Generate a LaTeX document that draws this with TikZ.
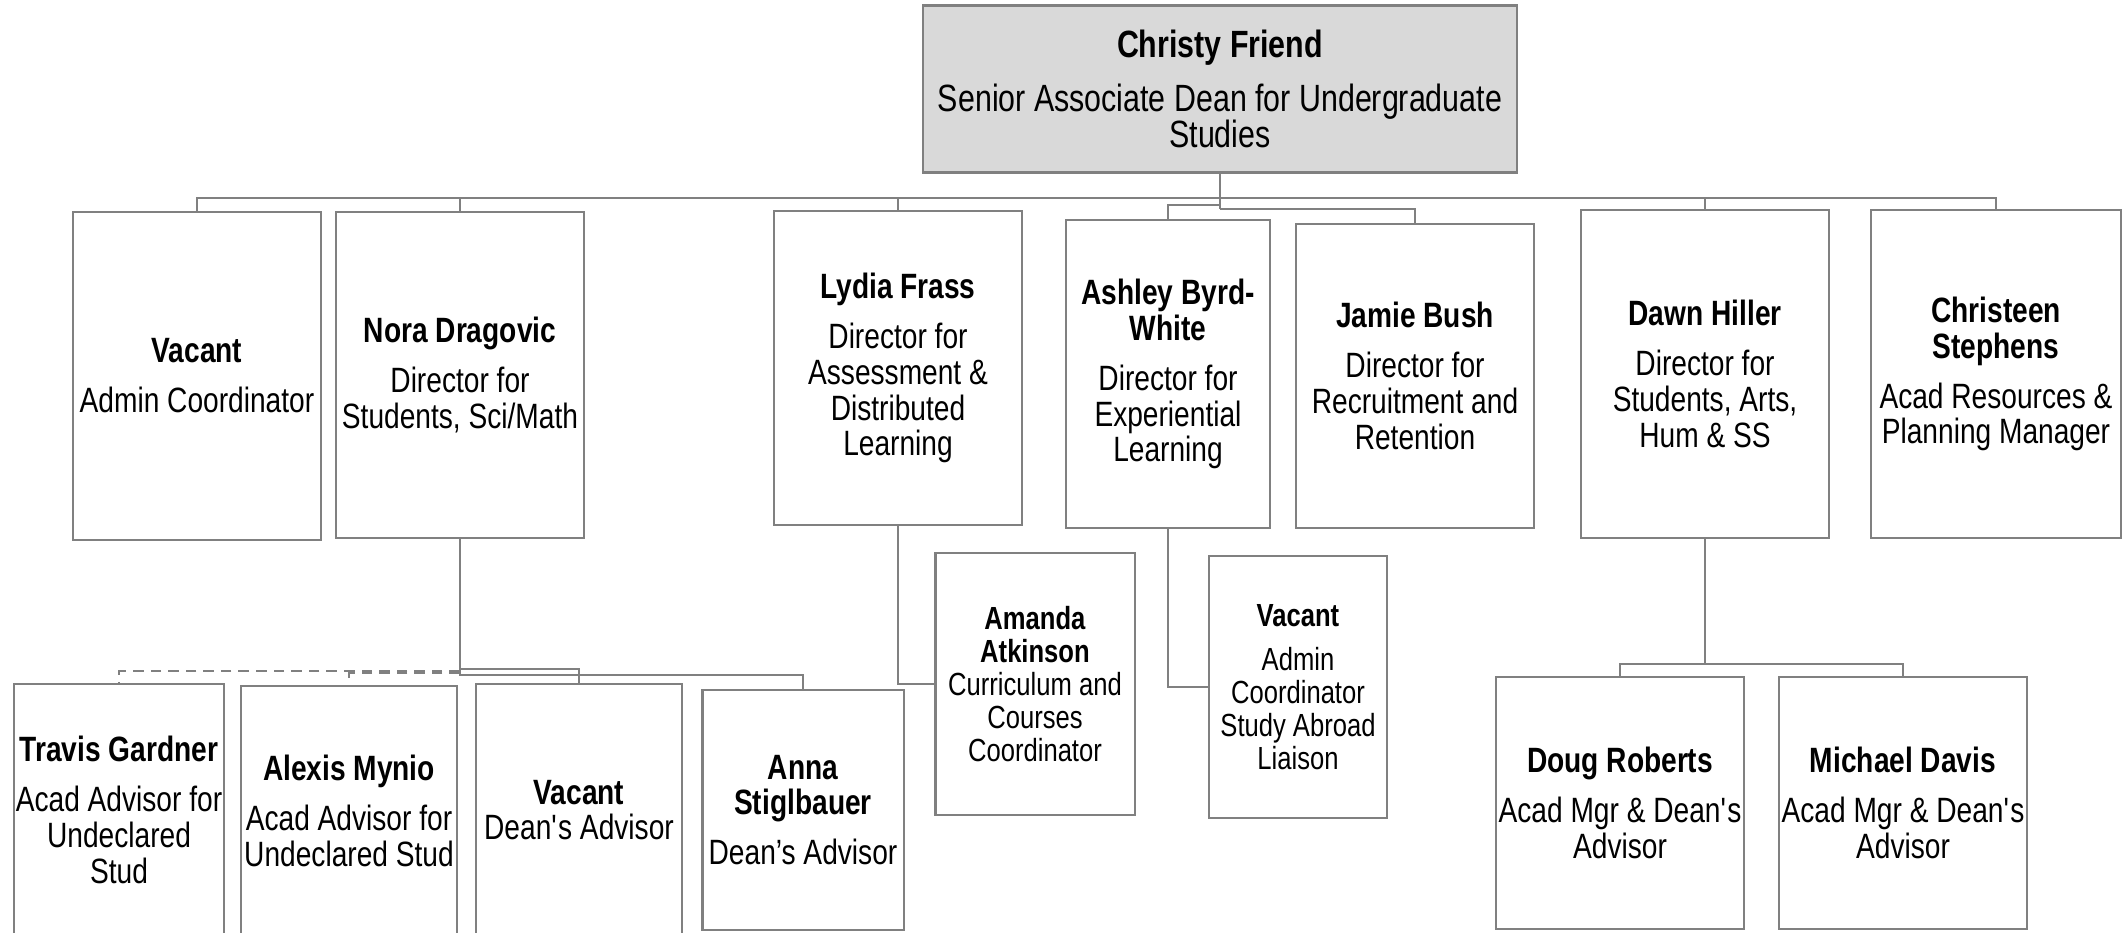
\documentclass[tikz,border=0pt]{standalone}
\usepackage{fontspec}
\setmainfont{Liberation Sans}
\newfontfamily\narrow{Liberation Sans}[FakeStretch=0.8]
\definecolor{linegray}{RGB}{128,128,128}
\definecolor{headfill}{RGB}{217,217,217}

\begin{document}
\begin{tikzpicture}[x=0.01cm, y=-0.01cm,
  box/.style 2 args={shape=rectangle, draw=linegray, line width=0.6pt, minimum width=#1, minimum height=#2, inner sep=0pt, align=center, font=\narrow\fontsize{10}{10.2}\selectfont},
  small/.style={font=\narrow\fontsize{9.1}{9.4}\selectfont},
  link/.style={draw=linegray, line width=0.6pt},
  dashlink/.style={link, dash pattern=on 3pt off 2pt}]
\useasboundingbox (0,0) rectangle (2126,933);
\clip (0,0) rectangle (2126,933);

\node [box={5.93cm}{1.67cm}, fill=headfill, font=\narrow\fontsize{10.8}{10.2}\selectfont] (CF) at (1220,89) {\textbf{Christy Friend}\\[5pt]Senior Associate Dean for Undergraduate\\Studies};

\node [box={2.48cm}{3.27cm}] (VA) at (197,376) {\textbf{Vacant}\\[4pt]Admin Coordinator};
\node [box={2.48cm}{3.26cm}] (ND) at (460,375) {\textbf{Nora Dragovic}\\[4pt]Director for\\Students, Sci/Math};
\node [box={2.48cm}{3.13cm}] (LF) at (898,368) {\textbf{Lydia Frass}\\[4pt]Director for\\Assessment \&\\Distributed\\Learning};
\node [box={2.04cm}{3.07cm}] (AB) at (1168,374) {\textbf{Ashley Byrd-}\\\textbf{White}\\[4pt]Director for\\Experiential\\Learning};
\node [box={2.38cm}{3.03cm}] (JB) at (1415,376) {\textbf{Jamie Bush}\\[4pt]Director for\\Recruitment and\\Retention};
\node [box={2.48cm}{3.27cm}] (DH) at (1705,374) {\textbf{Dawn Hiller}\\[4pt]Director for\\Students, Arts,\\Hum \& SS};
\node [box={2.50cm}{3.28cm}] (CS) at (1996,374) {\textbf{Christeen}\\\textbf{Stephens}\\[4pt]Acad Resources \&\\Planning Manager};

\node [box={1.99cm}{2.62cm}, small] (AA) at (1035,684) {\textbf{Amanda}\\\textbf{Atkinson}\\Curriculum and\\Courses\\Coordinator};
\node [box={1.78cm}{2.62cm}, small] (VB) at (1298,687) {\textbf{Vacant}\\[3pt]Admin\\Coordinator\\Study Abroad\\Liaison};

\node [box={2.10cm}{2.51cm}] (TG) at (119,810) {\textbf{Travis Gardner}\\[4pt]Acad Advisor for\\Undeclared\\Stud};
\node [box={2.16cm}{2.49cm}] (AM) at (349,811) {\textbf{Alexis Mynio}\\[4pt]Acad Advisor for\\Undeclared Stud};
\node [box={2.06cm}{2.51cm}] (VC) at (579,810) {\textbf{Vacant}\\Dean\textquotesingle s Advisor};
\node [box={2.01cm}{2.40cm}] (AS) at (803,810) {\textbf{Anna}\\\textbf{Stiglbauer}\\[4pt]Dean’s Advisor};
\node [box={2.47cm}{2.51cm}] (DR) at (1620,803) {\textbf{Doug Roberts}\\[4pt]Acad Mgr \& Dean\textquotesingle s\\Advisor};
\node [box={2.48cm}{2.51cm}] (MD) at (1903,803) {\textbf{Michael Davis}\\[4pt]Acad Mgr \& Dean\textquotesingle s\\Advisor};

\coordinate (B1) at (1220,198);
\coordinate (B2) at (1220,205);
\coordinate (B3) at (1220,209);

\draw[link] (CF.south) -- (B3);
\draw[link] (VA.north) |- (B1) -| (CS.north);
\foreach \n in {ND, LF, DH} \draw[link] (\n.north) -- (\n.north |- B1);
\draw[link] (AB.north) |- (B2);
\draw[link] (JB.north) |- (B3);

\draw[link] (LF.south) |- (AA.west);
\draw[link] (AB.south) |- (VB.west);

\draw[link] (DH.south) -- ++(0,125) -| (DR.north);
\draw[link] (DH.south) ++(0,125) -| (MD.north);

\draw[link] (ND.south) -- ++(0,130) -| (VC.north);
\draw[link] (ND.south) -- ++(0,136) -| (AS.north);
\draw[dashlink] (ND.south) ++(0,132) -| (TG.north);
\draw[dashlink] (ND.south) ++(0,134) -| (AM.north);
\end{tikzpicture}
\end{document}
